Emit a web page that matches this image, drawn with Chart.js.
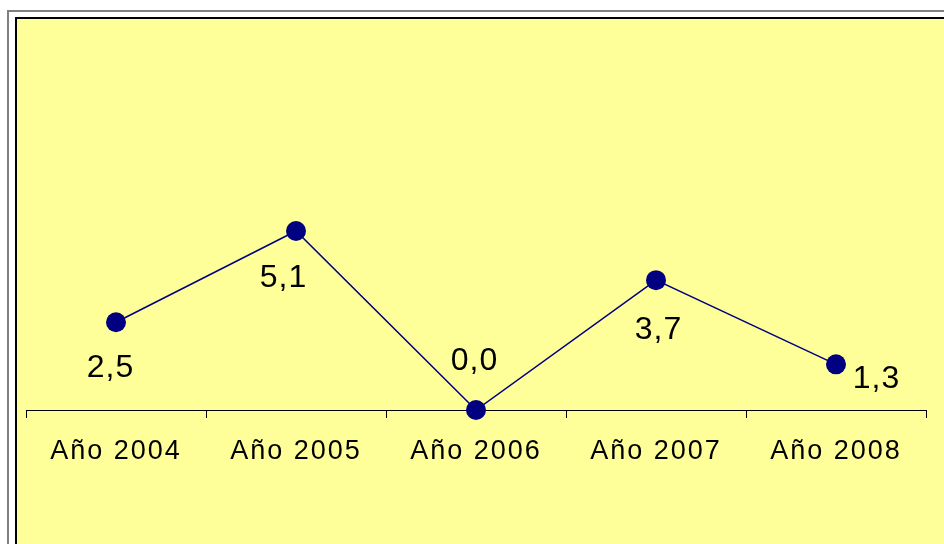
<!DOCTYPE html>
<html>
<head>
<meta charset="utf-8">
<script src="https://cdn.jsdelivr.net/npm/chart.js@4"></script>
<style>
  html, body { margin: 0; padding: 0; background: #ffffff; overflow: hidden; }
  #frame {
    position: absolute; left: 7px; top: 10px; width: 1000px; height: 600px;
    border: 2px solid #808080; box-sizing: border-box;
  }
  #plot {
    position: absolute; left: 15px; top: 17px; width: 1000px; height: 600px;
    border: 2px solid #000000; box-sizing: border-box; background: #ffff99;
  }
  #wrap { position: absolute; left: 0; top: 0; width: 944px; height: 544px; }
</style>
</head>
<body>
<div id="frame"></div>
<div id="plot"></div>
<div id="wrap"><canvas id="chart"></canvas></div>
<script>
"use strict";

const years = ["Año 2004", "Año 2005", "Año 2006", "Año 2007", "Año 2008"];
const growth = [2.5, 5.1, 0.0, 3.7, 1.3];

// label placement relative to each point, as in the original sheet
const labelOffsets = [[-6, 46], [-13, 47], [-2, -49], [2, 50], [40, 15]];

const FONT = "Arial, 'Liberation Sans', sans-serif";

const valueLabels = {
  id: "valueLabels",
  beforeDraw(chart) {
    chart.ctx.letterSpacing = "2px";
  },
  afterDatasetsDraw(chart) {
    const ctx = chart.ctx;
    const meta = chart.getDatasetMeta(0);
    ctx.save();
    ctx.font = "32px " + FONT;
    ctx.letterSpacing = "1px";
    ctx.fillStyle = "#000000";
    ctx.textAlign = "center";
    ctx.textBaseline = "middle";
    meta.data.forEach((pt, i) => {
      const text = growth[i].toFixed(1).replace(".", ",");
      const [dx, dy] = labelOffsets[i];
      ctx.fillText(text, pt.x + dx + 0.5, pt.y + dy);
    });
    ctx.restore();
  },
};

new Chart(document.getElementById("chart"), {
  type: "line",
  data: {
    labels: years,
    datasets: [
      {
        data: growth,
        borderColor: "#000080",
        borderWidth: 1.5,
        backgroundColor: "#000080",
        pointBackgroundColor: "#000080",
        pointBorderColor: "#000080",
        pointRadius: 10,
        pointBorderWidth: 0,
        tension: 0,
        clip: false,
      },
    ],
  },
  options: {
    responsive: true,
    maintainAspectRatio: false,
    animation: false,
    layout: {
      padding: { left: 26, right: 18, top: 59, bottom: 0 },
    },
    plugins: {
      legend: { display: false },
      tooltip: { enabled: false },
    },
    scales: {
      x: {
        offset: true,
        grid: {
          offset: true,
          drawOnChartArea: false,
          drawTicks: true,
          tickLength: 8,
          color: "#000000",
          lineWidth: 1,
        },
        border: { display: true, color: "#000000", width: 1 },
        ticks: {
          color: "#000000",
          padding: 17,
          maxRotation: 0,
          autoSkip: false,
          font: { family: FONT, size: 27 },
        },
        afterFit(scale) {
          scale.height = 134;
        },
      },
      y: {
        display: false,
        min: 0,
        max: 10,
      },
    },
  },
  plugins: [valueLabels],
});
</script>
</body>
</html>
